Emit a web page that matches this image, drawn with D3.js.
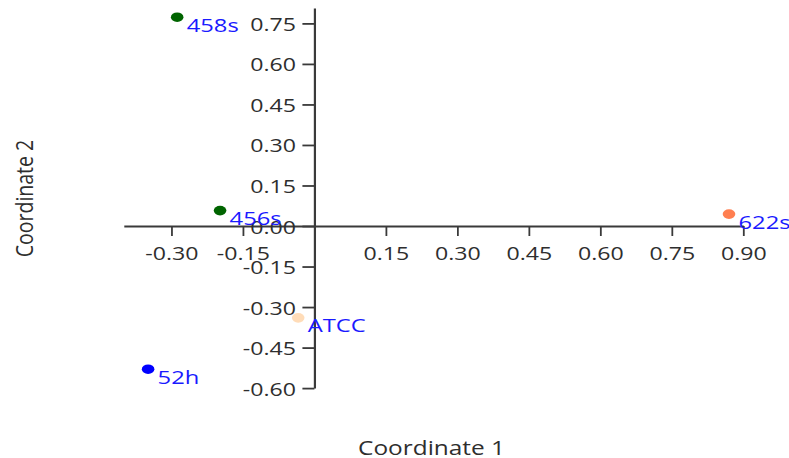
<!DOCTYPE html>
<html>
<head>
<meta charset="utf-8">
<script src="https://cdn.jsdelivr.net/npm/d3@7"></script>
<style>
  html, body { margin: 0; padding: 0; background: #fff; }
  svg { display: block; }
  text { font-family: "Open Sans", "DejaVu Sans", sans-serif; }
</style>
</head>
<body>
<svg id="chart" width="789" height="458"></svg>
<script>
// Sample ordination coordinates
const samples = ["458s", "456s", "52h", "ATCC", "622s"];
const coord1 = [-0.288, -0.198, -0.349, -0.034, 0.870];
const coord2 = [0.773, 0.057, -0.530, -0.340, 0.044];
const pointColors = ["#006400", "#006400", "#0000ff", "#ffdcb8", "#ff7f50"];

const xTicks = [-0.30, -0.15, 0.15, 0.30, 0.45, 0.60, 0.75, 0.90];
const yTicks = [-0.60, -0.45, -0.30, -0.15, 0.00, 0.15, 0.30, 0.45, 0.60, 0.75];

const xTitle = "Coordinate 1";
const yTitle = "Coordinate 2";

// glyphs are drawn wide, as in the rest of the figure
const STRETCH = 1.25;

const svg = d3.select("#chart");

const x = d3.scaleLinear().domain([-0.4, 0.9]).range([123.8, 743.3]);
const y = d3.scaleLinear().domain([-0.6, 0.807]).range([388.1, 8]);

// two decimals, plain hyphen for negatives
const fmt = v => d3.format(".2f")(v).replace("\u2212", "-");
const axisColor = "#3a3a3a";
const labelColor = "#2e2e2e";

// horizontal axis through y = 0
const gx = svg.append("g")
  .attr("transform", `translate(0,${y(0)})`)
  .call(d3.axisBottom(x).tickValues(xTicks).tickFormat(fmt).tickSize(10).tickSizeOuter(0));

// vertical axis through x = 0
const gy = svg.append("g")
  .attr("transform", `translate(${x(0)},0)`)
  .call(d3.axisLeft(y).tickValues(yTicks).tickFormat(fmt).tickSize(12).tickSizeOuter(0));

[gx, gy].forEach(g => {
  g.select(".domain").attr("stroke", axisColor).attr("stroke-width", 2.2);
  g.selectAll(".tick line").attr("stroke", axisColor).attr("stroke-width", 1.8);
  g.selectAll("text").attr("fill", labelColor).attr("font-size", 18.5)
    .attr("font-family", '"Open Sans", "DejaVu Sans", sans-serif');
});

gx.selectAll(".tick text")
  .attr("x", null).attr("y", null).attr("dy", null)
  .attr("transform", `translate(0,34) scale(${STRETCH},1)`);

gy.selectAll(".tick text")
  .attr("x", null).attr("y", null).attr("dy", null)
  .attr("transform", `translate(-18.5,7) scale(${STRETCH},1)`);

// sample points
const pts = svg.append("g");
samples.forEach((name, i) => {
  pts.append("ellipse")
    .attr("cx", x(coord1[i]))
    .attr("cy", y(coord2[i]))
    .attr("rx", 6.3)
    .attr("ry", 4.8)
    .attr("fill", pointColors[i]);
});

// sample names
samples.forEach((name, i) => {
  pts.append("text")
    .attr("transform", `translate(${x(coord1[i]) + 9.5},${y(coord2[i]) + 14.5}) scale(${STRETCH},1)`)
    .attr("font-size", 19)
    .attr("fill", "#1a1aff")
    .text(name);
});

// axis titles
svg.append("text")
  .attr("transform", `translate(431.5,455) scale(${STRETCH},1)`)
  .attr("text-anchor", "middle")
  .attr("font-size", 19.5)
  .attr("fill", labelColor)
  .text(xTitle);

svg.append("text")
  .attr("transform", `translate(33,198.5) scale(${STRETCH},1) rotate(-90)`)
  .attr("text-anchor", "middle")
  .attr("font-size", 19.5)
  .attr("fill", labelColor)
  .text(yTitle);
</script>
</body>
</html>
